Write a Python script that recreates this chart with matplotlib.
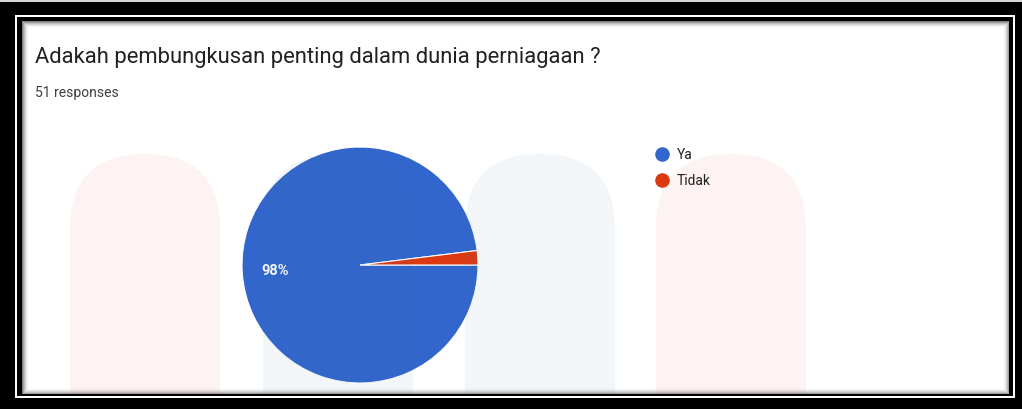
import matplotlib.pyplot as plt
from matplotlib.patches import Rectangle, FancyBboxPatch

# ---------------------------------------------------------------
# DATA
# ---------------------------------------------------------------
title = 'Adakah pembungkusan penting dalam dunia perniagaan ?'
subtitle = '51 responses'
labels = ['Ya', 'Tidak']
counts = [50, 1]
colors = ['#3366cc', '#dc3912']

W, H = 1022, 410
plt.rcParams['font.family'] = ['Roboto', 'DejaVu Sans']

fig = plt.figure(figsize=(W / 100, H / 100), dpi=100)
fig.patch.set_facecolor('black')

# ---------------------------------------------------------------
# FRAME (pixel coordinates)
# ---------------------------------------------------------------
bg = fig.add_axes([0, 0, 1, 1], zorder=0)
bg.set_xlim(0, W)
bg.set_ylim(H, 0)
bg.axis('off')
bg.add_patch(Rectangle((0, 0), W, 3, color='#d8d8d8', lw=0))
bg.add_patch(Rectangle((15, 16), 1000, 383, color='white', lw=0))
bg.add_patch(Rectangle((17, 18), 996, 379, color='black', lw=0))
bg.add_patch(Rectangle((22, 22), 987, 373, color='white', lw=0))
for k in range(7):
    a = 0.5 * (1 - k / 7) ** 2
    bg.add_patch(Rectangle((22 + k, 22 + k), 987 - 2 * k, 373 - 2 * k,
                           fill=False, edgecolor=(0, 0, 0, a), lw=0.72))

# ---------------------------------------------------------------
# PIE
# ---------------------------------------------------------------
cx, cy, r = 360, 266, 118
pax = fig.add_axes([(cx - r) / W, (H - cy - r) / H, 2 * r / W, 2 * r / H], zorder=1)
wedges, _ = pax.pie(counts, colors=colors, startangle=0, counterclock=False,
                    wedgeprops=dict(edgecolor='white', linewidth=0.8))
pax.set_xlim(-1, 1)
pax.set_ylim(-1, 1)
pax.set_aspect('equal')
pax.axis('off')
pct = 100 * counts[0] / sum(counts)
pax.text(-0.72, -0.04, f'{pct:.0f}%', color='white', fontsize=10.5,
         fontweight='bold', ha='center', va='center')

# ---------------------------------------------------------------
# OVERLAY: watermark shapes, texts, legend
# ---------------------------------------------------------------
ov = fig.add_axes([22 / W, (H - 395) / H, 987 / W, 373 / H], zorder=2)
ov.set_xlim(22, 1009)
ov.set_ylim(395, 22)
ov.axis('off')
ov.patch.set_alpha(0)

shapes = [(70, 'pink'), (263, 'blue'), (465, 'blue'), (656, 'pink')]
tints = {'pink': ((0.9, 0.2, 0.2), 0.055), 'blue': ((0.2, 0.45, 0.65), 0.06)}
for x0, kind in shapes:
    c, a = tints[kind]
    ov.add_patch(FancyBboxPatch((x0, 155), 150, 400,
                                boxstyle='round,pad=0,rounding_size=75',
                                facecolor=c, alpha=a, lw=0))

ov.text(35, 63, title, fontsize=15.8, color='#202124', va='baseline')
ov.text(35, 97, subtitle, fontsize=10, color='#3c4043', va='baseline')

for i, (lab, col) in enumerate(zip(labels, colors)):
    y = 155 + i * 26
    ov.scatter(662, y, s=110, color=col, lw=0)
    ov.text(677, y, lab, fontsize=10, color='#222222', va='center')

fig.savefig('out.png', dpi=100, facecolor=fig.get_facecolor())
